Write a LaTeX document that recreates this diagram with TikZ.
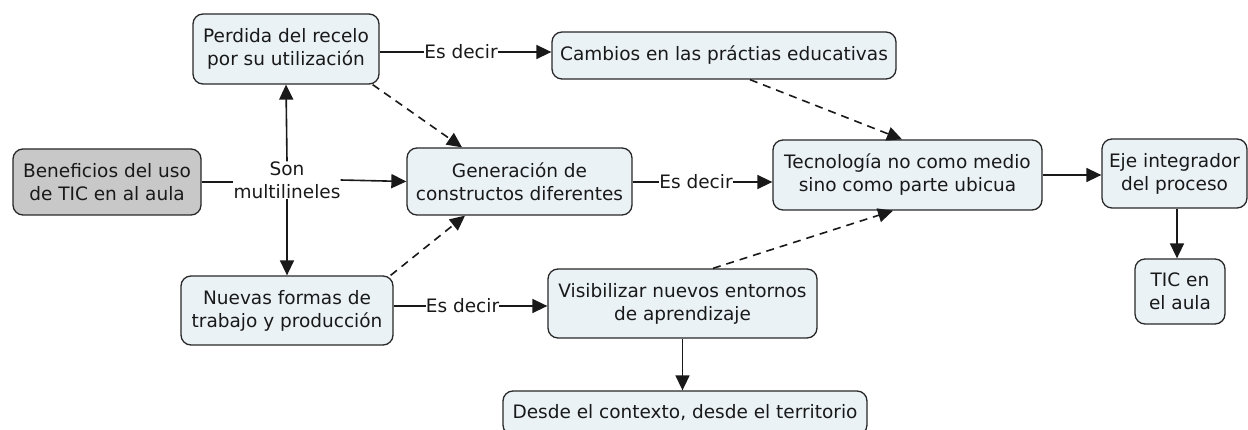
\documentclass[tikz,border=0pt]{standalone}
\usepackage{fontspec}
\setmainfont{DejaVu Sans}
\usepackage{tikz}
\usetikzlibrary{calc,positioning,arrows.meta,shapes}

\definecolor{cajafondo}{RGB}{234,242,246}
\definecolor{raizfondo}{RGB}{200,200,200}
\definecolor{borde}{RGB}{40,40,40}

\tikzset{
  concepto/.style={draw=borde, line width=1.3pt, fill=cajafondo, rounded corners=10pt,
    align=center, inner sep=0pt, text=black!90,
    font=\fontsize{18.5}{23}\selectfont},
  raiz/.style={concepto, fill=raizfondo},
  enlace/.style={inner sep=0pt, align=center, text=black!90,
    font=\fontsize{18.5}{23}\selectfont},
  linea/.style={line width=1.6pt, draw=black!90},
  flecha/.style={linea, -{Triangle[length=15pt,width=14pt]}},
  punteada/.style={flecha, dash pattern=on 8pt off 6pt}
}

\begin{document}
\begin{tikzpicture}[x=1pt, y=-1pt]
		\useasboundingbox (0,0) rectangle (1248,430);
		\clip (0,0) rectangle (1248,430);

		% conceptos
		\node [raiz, minimum width=188pt, minimum height=66pt] (benef) at (107,182) {Beneficios del uso\\de TIC en al aula};
		\node [enlace] (son) at (287,180) {Son\\multilineles};
		\node [concepto, minimum width=186pt, minimum height=70pt] (perdida) at (286,49) {Perdida del recelo\\por su utilización};
		\node [concepto, minimum width=212pt, minimum height=69pt] (nuevas) at (287,310.5) {Nuevas formas de\\trabajo y producción};
		\node [concepto, minimum width=225pt, minimum height=67pt] (gener) at (519.5,181.5) {Generación de\\constructos diferentes};
		\node [concepto, minimum width=344pt, minimum height=47pt] (cambios) at (724,55.5) {Cambios en las práctias educativas};
		\node [concepto, minimum width=269pt, minimum height=70pt] (tecno) at (907.5,175) {Tecnología no como medio\\sino como parte ubicua};
		\node [concepto, minimum width=269pt, minimum height=69pt] (visib) at (682.5,303.5) {Visibilizar nuevos entornos\\de aprendizaje};
		\node [concepto, minimum width=364pt, minimum height=44pt] (desde) at (685,413) {Desde el contexto, desde el territorio};
		\node [concepto, minimum width=145pt, minimum height=69pt] (eje) at (1174.5,173.5) {Eje integrador\\del proceso};
		\node [concepto, minimum width=90pt, minimum height=65pt] (tic) at (1180,291.5) {TIC en\\el aula};

		% frases de enlace
		\node [enlace] (es1) at (461,52) {Es decir};
		\node [enlace] (es2) at (696,182) {Es decir};
		\node [enlace] (es3) at (462.5,306) {Es decir};

		% conexiones
		\draw [linea] (benef.east) -- (benef.east -| son.west);
		\draw [flecha] (son.north) -- (perdida.south);
		\draw [flecha] (son.south) -- (nuevas.north);
		\draw [flecha] (son.east) -- (gener.west);

		\draw [linea] (perdida.east |- es1.west) -- (es1.west);
		\draw [flecha] (es1.east) -- (es1.east -| cambios.west);
		\draw [linea] (gener.east |- es2.west) -- (es2.west);
		\draw [flecha] (es2.east) -- (es2.east -| tecno.west);
		\draw [linea] (nuevas.east |- es3.west) -- (es3.west);
		\draw [flecha] (es3.east) -- (es3.east -| visib.west);

		\draw [flecha] (tecno.east) -- (tecno.east -| eje.west);
		\draw [flecha] ([xshift=2.5pt]eje.south) -- ([xshift=2.5pt]eje.south |- tic.north);
		\draw [flecha] (visib.south) -- (visib.south |- desde.north);

		% relaciones punteadas
		\draw [punteada] ([xshift=-7pt]perdida.south east) -- ([xshift=-57.5pt]gener.north);
		\draw [punteada] ([xshift=-3pt]nuevas.north east) -- ([xshift=-54.5pt]gener.south);
		\draw [punteada] ([xshift=26pt]cambios.south) -- ([xshift=-5.5pt]tecno.north);
		\draw [punteada] ([xshift=30.5pt]visib.north) -- ([xshift=-14.5pt]tecno.south);

\end{tikzpicture}
\end{document}
